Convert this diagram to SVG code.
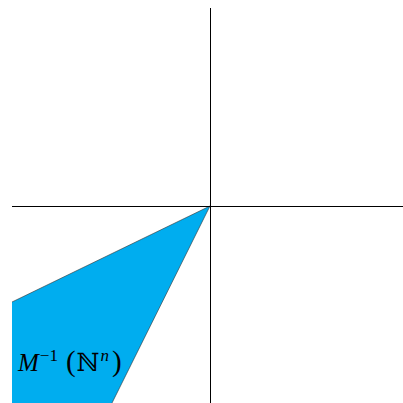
<svg xmlns="http://www.w3.org/2000/svg" width="403" height="403" viewBox="0 0 403 403">
<style>
.ax{stroke:#000;stroke-width:1;fill:none}
.t{font-family:"Liberation Serif","DejaVu Serif",serif;font-size:25px;fill:#000}
</style>
<rect width="403" height="403" fill="#fff"/>
<g id="region">
<polygon points="12,302 210,206 112,403 12,403" fill="#00adef"/>
<polyline points="12,302 210,206 112,403" stroke="#333" stroke-width="0.6" fill="none"/>
</g>
<g id="connectors">
<line class="ax" x1="12" y1="206.5" x2="403" y2="206.5"/>
<line class="ax" x1="210.5" y1="8" x2="210.5" y2="403"/>
</g>
<g id="label">
<text class="t" x="18" y="371"><tspan font-style="italic">M</tspan><tspan font-size="17" dy="-10" dx="1">−1</tspan><tspan dy="10" font-size="29" dx="8">(</tspan><tspan dx="1">ℕ</tspan><tspan font-size="17" font-style="italic" dy="-10" dx="1">n</tspan><tspan dy="10" font-size="29" dx="3">)</tspan></text>
</g>
</svg>
